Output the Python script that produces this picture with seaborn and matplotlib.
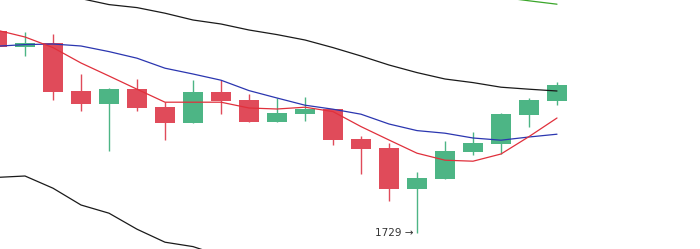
import numpy as np
import pandas as pd
import matplotlib
matplotlib.use("Agg")
import matplotlib.pyplot as plt
import seaborn as sns

# ---- data ----
idx = list(range(21))
opens  = [1830.0, 1822.2, 1824.0, 1800.2, 1793.7, 1801.0, 1792.0, 1784.2, 1799.5, 1795.5, 1784.7,
          1788.7, 1791.0, 1776.0, 1771.5, 1751.2, 1756.2, 1769.7, 1773.7, 1788.2, 1795.2]
closes = [1822.2, 1824.0, 1799.7, 1793.7, 1801.0, 1791.7, 1784.2, 1799.5, 1795.2, 1784.7, 1789.0,
          1790.9, 1775.7, 1771.2, 1751.2, 1756.5, 1770.0, 1774.0, 1788.5, 1795.5, 1803.0]
highs  = [1831.5, 1829.5, 1828.5, 1808.7, 1801.5, 1805.9, 1794.4, 1805.5, 1805.5, 1798.4, 1796.7,
          1796.9, 1791.0, 1777.4, 1774.0, 1759.7, 1775.0, 1779.5, 1789.0, 1796.4, 1804.7]
lows   = [1821.0, 1817.5, 1795.7, 1790.2, 1770.2, 1789.9, 1775.4, 1784.2, 1788.7, 1784.7, 1784.7,
          1785.0, 1773.0, 1758.7, 1745.0, 1729.0, 1756.2, 1768.2, 1768.5, 1782.2, 1793.2]

ma_short = [1830.4, 1827.0, 1821.7, 1814.0, 1807.5, 1800.9, 1794.4, 1794.4, 1794.4, 1791.5, 1791.0,
            1791.9, 1789.7, 1782.2, 1775.5, 1768.9, 1765.4, 1764.9, 1768.5, 1777.2, 1786.5]
ma_long  = [1822.4, 1823.2, 1823.5, 1822.5, 1819.7, 1816.4, 1811.4, 1808.5, 1805.4, 1800.2, 1796.5,
            1792.9, 1790.9, 1788.4, 1783.5, 1780.2, 1778.9, 1776.5, 1775.4, 1777.0, 1778.4]
band_up  = [1855.5, 1852.5, 1849.0, 1846.2, 1843.2, 1841.7, 1838.9, 1835.5, 1833.5, 1830.5, 1828.2,
            1825.5, 1821.7, 1817.5, 1813.0, 1809.2, 1806.0, 1804.2, 1801.9, 1800.9, 1800.0]
band_low = [1756.8, 1757.5, 1751.4, 1743.0, 1738.9, 1730.9, 1724.4, 1722.2, 1717.6, 1714.5, np.nan,
            np.nan, np.nan, np.nan, np.nan, np.nan, np.nan, np.nan, np.nan, np.nan, np.nan]
green_line = [np.nan] * 18 + [1846.9, 1845.1, 1843.4]

low_label = "1729 →"
low_value = 1729.0
low_index = 15

# ---- style ----
sns.set_theme(style="white")
plt.rcParams['font.family'] = ['DejaVu Sans']

UP = "#4db585"
DOWN = "#e04b5a"

fig = plt.figure(figsize=(7.0, 2.49), dpi=100)
ax = fig.add_axes([0, 0, 1, 1])

df = pd.DataFrame({"i": idx, "open": opens, "close": closes, "high": highs, "low": lows})
colors = [UP if c >= o else DOWN for o, c in zip(df["open"], df["close"])]
bottoms = np.minimum(df["open"], df["close"])
heights = np.abs(df["close"] - df["open"])

ax.vlines(df["i"], df["low"], df["high"], colors=colors, linewidth=1.0, zorder=2)
ax.bar(df["i"], heights, bottom=bottoms, width=0.68, color=colors, linewidth=0, zorder=3)

sns.lineplot(x=idx, y=band_up, ax=ax, color="#1a1a1a", linewidth=0.9, zorder=4)
sns.lineplot(x=idx, y=band_low, ax=ax, color="#1a1a1a", linewidth=0.9, zorder=4)
sns.lineplot(x=idx, y=ma_long, ax=ax, color="#2b36b0", linewidth=0.9, zorder=5)
sns.lineplot(x=idx, y=ma_short, ax=ax, color="#e0303c", linewidth=0.9, zorder=5)
sns.lineplot(x=idx, y=green_line, ax=ax, color="#3aa62a", linewidth=0.9, zorder=5)

ax.text(low_index - 0.14, low_value, low_label, ha="right", va="center",
        fontsize=7.5, color="#333333", zorder=6)

ax.set_xlim(3 / 28, 3 / 28 + 25)
ax.set_ylim(1721.0, 1845.5)
ax.set_axis_off()

fig.savefig("out.png", dpi=100)
